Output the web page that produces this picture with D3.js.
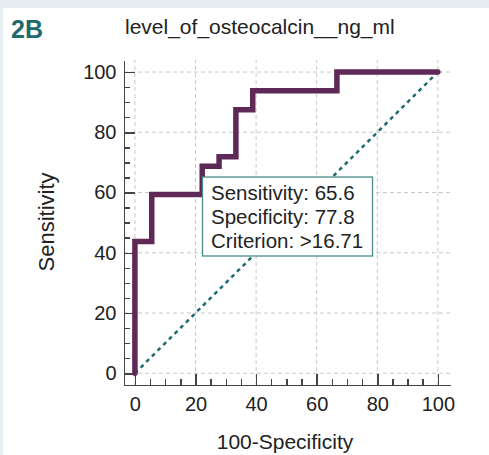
<!DOCTYPE html>
<html lang="en">
<head>
  <meta charset="UTF-8">
  <title>ROC curve</title>
  <style>
    body {
      margin: 0;
      background: #e5edf0;
      font-family: "Liberation Sans", Arial, sans-serif;
    }
    #chart svg { display: block; }
    .axis path,
    .axis line {
      fill: none;
      stroke: #444;
      stroke-width: 1.5;
      shape-rendering: crispEdges;
    }
    .axis text {
      font-size: 20px;
      fill: #222;
    }
    .grid line {
      stroke: #c8c8c8;
      stroke-width: 1;
      stroke-dasharray: 4,3;
    }
  </style>
  <script src="https://d3js.org/d3.v7.min.js"></script>
</head>
<body>
  <div id="chart"></div>
  <script>
    // ROC points: x = 100-Specificity, y = Sensitivity
    var fpr  = [0, 0, 5.56, 5.56, 22.22, 22.22, 27.78, 27.78, 33.33, 33.33, 38.89, 38.89, 66.67, 66.67, 100];
    var sens = [0, 43.75, 43.75, 59.38, 59.38, 68.75, 68.75, 71.88, 71.88, 87.5, 87.5, 93.75, 93.75, 100, 100];
    var majorTicks = [0, 20, 40, 60, 80, 100];
    var minorTicks = d3.range(0, 101, 5);
    var boxLines = ["Sensitivity: 65.6", "Specificity: 77.8", "Criterion: >16.71"];
    var chartTitle = "level_of_osteocalcin__ng_ml";
    var panelLabel = "2B";
    var xTitle = "100-Specificity";
    var yTitle = "Sensitivity";

    var width = 489, height = 455;

    var svg = d3.select('#chart').append('svg')
      .attr('width', width)
      .attr('height', height);

    // white panel
    svg.append('rect')
      .attr('x', 3).attr('y', 8)
      .attr('width', width - 3).attr('height', height - 8)
      .attr('fill', '#fff');

    var x = d3.scaleLinear().domain([-3.6, 104]).range([124, 450]);
    var y = d3.scaleLinear().domain([-3.9, 104]).range([385, 60]);

    // grid
    var grid = svg.append('g').classed('grid', true);
    grid.selectAll('.vg').data(majorTicks).enter().append('line')
      .attr('x1', function(d) { return x(d); })
      .attr('x2', function(d) { return x(d); })
      .attr('y1', y.range()[0])
      .attr('y2', y.range()[1]);
    grid.selectAll('.hg').data(majorTicks).enter().append('line')
      .attr('y1', function(d) { return y(d); })
      .attr('y2', function(d) { return y(d); })
      .attr('x1', x.range()[0])
      .attr('x2', x.range()[1]);

    // axes: minor ticks then major ticks with labels
    svg.append('g').classed('axis', true)
      .attr('transform', 'translate(0,385)')
      .call(d3.axisBottom(x).tickValues(minorTicks).tickSize(-6).tickSizeOuter(0).tickFormat(''));
    svg.append('g').classed('axis', true)
      .attr('transform', 'translate(0,385)')
      .call(d3.axisBottom(x).tickValues(majorTicks).tickSize(-11).tickSizeOuter(0).tickPadding(12));

    svg.append('g').classed('axis', true)
      .attr('transform', 'translate(124,0)')
      .call(d3.axisLeft(y).tickValues(minorTicks).tickSize(-6).tickSizeOuter(0).tickFormat(''));
    svg.append('g').classed('axis', true)
      .attr('transform', 'translate(124,0)')
      .call(d3.axisLeft(y).tickValues(majorTicks).tickSize(-11).tickSizeOuter(0).tickPadding(7.5));

    // reference diagonal
    svg.append('line')
      .attr('x1', x(0)).attr('y1', y(0))
      .attr('x2', x(100)).attr('y2', y(100))
      .attr('stroke', '#1f6b70')
      .attr('stroke-width', 2.5)
      .attr('stroke-dasharray', '4,4');

    // ROC curve
    var line = d3.line()
      .x(function(d) { return x(d[0]); })
      .y(function(d) { return y(d[1]); });
    svg.append('path')
      .datum(d3.zip(fpr, sens))
      .attr('d', line)
      .attr('fill', 'none')
      .attr('stroke', '#5f2957')
      .attr('stroke-width', 5.5)
      .attr('stroke-linejoin', 'miter')
      .attr('stroke-linecap', 'round');

    // criterion box
    var box = svg.append('g').attr('transform', 'translate(202.5,177)');
    box.append('rect')
      .attr('width', 170).attr('height', 79)
      .attr('fill', '#fff')
      .attr('stroke', '#4a8a8c')
      .attr('stroke-width', 1.3);
    box.selectAll('text').data(boxLines).enter().append('text')
      .attr('x', 8.5)
      .attr('y', function(d, i) { return 22.5 + i * 24; })
      .attr('font-size', '20.5px')
      .attr('fill', '#222')
      .text(function(d) { return d; });

    // titles
    svg.append('text')
      .attr('x', 11).attr('y', 37.5)
      .attr('font-size', '25px')
      .attr('font-weight', 'bold')
      .attr('fill', '#1f6a6e')
      .text(panelLabel);
    svg.append('text')
      .attr('x', 125).attr('y', 34)
      .attr('font-size', '21px')
      .attr('fill', '#222')
      .text(chartTitle);
    svg.append('text')
      .attr('x', 285).attr('y', 449)
      .attr('text-anchor', 'middle')
      .attr('font-size', '21px')
      .attr('fill', '#222')
      .text(xTitle);
    svg.append('text')
      .attr('transform', 'translate(53.5,222) rotate(-90)')
      .attr('text-anchor', 'middle')
      .attr('font-size', '22px')
      .attr('fill', '#222')
      .text(yTitle);
  </script>
</body>
</html>
